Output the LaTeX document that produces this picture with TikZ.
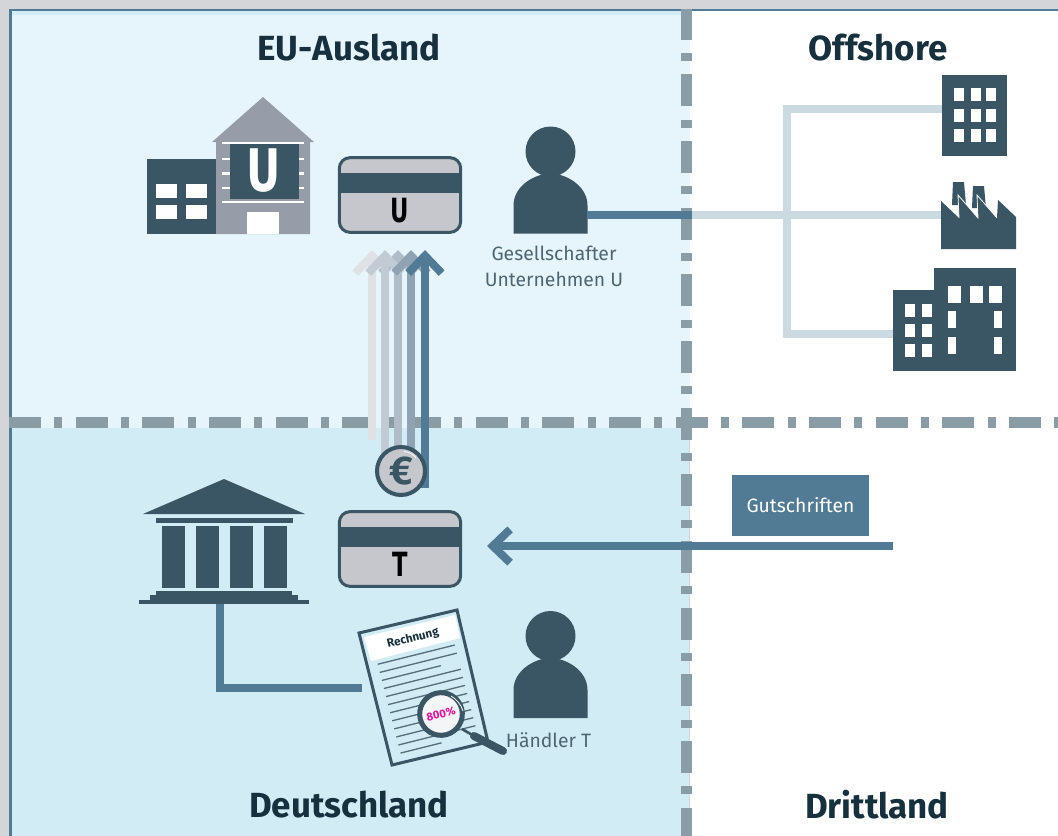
\documentclass[tikz,border=0pt]{standalone}
\usepackage{fontspec}
\setmainfont{Fira Sans}
\newfontfamily\heavyface{DejaVu Sans}
\usetikzlibrary{positioning, arrows.meta}
\definecolor{pagegrey}{RGB}{212,213,216}
\definecolor{eublue}{RGB}{230,245,251}
\definecolor{deblue}{RGB}{210,236,246}
\definecolor{iconblue}{RGB}{58,85,100}
\definecolor{flowblue}{RGB}{81,122,149}
\definecolor{linkpale}{RGB}{203,217,225}
\definecolor{bordergrey}{RGB}{138,157,167}
\definecolor{housegrey}{RGB}{150,157,168}
\definecolor{cardgrey}{RGB}{198,199,204}
\definecolor{titledark}{RGB}{23,48,61}
\definecolor{labelgrey}{RGB}{78,101,114}
\definecolor{rateink}{RGB}{230,16,155}
\tikzset{
  zonetitle/.style={text=titledark, font=\fontsize{26.2}{30}\selectfont\bfseries},
  zonetext/.style={text=labelgrey, font=\fontsize{14.5}{18}\selectfont, align=center},
  zoneline/.style={bordergrey, line width=8.25pt, dash pattern=on 24pt off 10pt on 6pt off 10pt},
  flowline/.style={flowblue, line width=6pt},
  linkline/.style={linkpale, line width=6pt},
  flowarrow/.style={line width=6pt, -{Straight Barb[length=13pt, width=25pt, line width=6pt]}},
  cardbox/.style={draw=iconblue, fill=cardgrey, line width=2.25pt, rounded corners=8pt, minimum width=91pt, minimum height=56pt, inner sep=0pt},
  cardtext/.style={font=\fontsize{25}{25}\heavyface\bfseries, inner sep=0pt},
  person/.pic={
    \fill [iconblue] (0,-82) circle (25);
    \fill [iconblue] (-37,0) -- (-37,-28) .. controls (-37,-48) and (-15,-60) .. (0,-60) .. controls (15,-60) and (37,-48) .. (37,-28) -- (37,0) -- cycle;
  }
}
\begin{document}
\begin{tikzpicture}[x=0.75pt, y=-0.75pt]
  \useasboundingbox (0,0) rectangle (1058,836);
  \fill [pagegrey] (0,0) rectangle (1058,836);
  \fill [white] (690,9) rectangle (1058,836);
  \fill [eublue] (9,9) rectangle (690,428);
  \fill [deblue] (9,428) rectangle (689,836);
  \fill [deblue] (12,11) rectangle (690,15);
  \fill [flowblue] (9,9) rectangle (12,836);
  \fill [flowblue] (9,9) rectangle (1058,11);

  \coordinate (zoneW) at (9,422.5);
  \coordinate (zoneE) at (1058,422.5);
  \coordinate (zoneN) at (686.5,9);
  \coordinate (zoneS) at (686.5,836);
  \draw [zoneline] (zoneW) -- (zoneE);
  \draw [zoneline, dash phase=1pt] (zoneN) -- (zoneS);

  \node [zonetitle] (euTitle) at (349,48) {EU-Ausland};
  \node [zonetitle] (offTitle) at (878,48) {Offshore};
  \node [zonetitle] (deTitle) at (349,805) {Deutschland};
  \node [zonetitle] (drTitle) at (877,805) {Drittland};

  % Unternehmen U
  \fill [housegrey] (212,142) -- (263,97) -- (314,142) -- (310,142) -- (310,234) -- (216,234) -- (216,142) -- cycle;
  \fill [white] (222,142) rectangle (304,144);
  \foreach \yy in {157.5,172,186.5} \fill [white] (222,\yy) rectangle (304,\yy+2.5);
  \fill [white] (222,201) rectangle (304,203);
  \fill [iconblue] (230,144) rectangle (299,199);
  \node [text=white, font=\fontsize{44}{44}\heavyface\bfseries, inner sep=0pt] (houseU) at (264,170.5) {\scalebox{0.72}[1]{U}};
  \fill [white] (247,212) rectangle (279,234);
  \fill [iconblue] (147,159) rectangle (216,234);
  \foreach \xx in {156,186} \foreach \yy in {184,205} \fill [white] (\xx,\yy) rectangle (\xx+21,\yy+14);

  \node [cardbox] (cardU) at (400,195) {};
  \fill [iconblue] (338,173) rectangle (462,193);
  \node [cardtext] (cardUtext) at (400,210.5) {\scalebox{0.68}[1]{U}};

  \pic at (550.5,233.5) {person};
  \node [zonetext] (ownerU) at (554,266.5) {Gesellschafter\\[2pt]Unternehmen U};

  % Zahlungen
  \coordinate (baseA) at (372,440);
  \coordinate (baseB) at (385,455);
  \coordinate (baseC) at (398,455);
  \coordinate (baseD) at (411,455);
  \coordinate (baseE) at (425,488);
  \coordinate (tipA) at (372,250);
  \coordinate (tipB) at (385,250);
  \coordinate (tipC) at (398,250);
  \coordinate (tipD) at (411,250);
  \coordinate (tipE) at (425,250);
  \draw [flowarrow, color={rgb,255:red,223;green,225;blue,229}] (baseA) -- (tipA);
  \draw [flowarrow, color={rgb,255:red,176;green,188;blue,200}] (baseC) -- (tipC);
  \draw [flowarrow, color={rgb,255:red,194;green,203;blue,212}] (baseB) -- (tipB);
  \draw [flowarrow, color={rgb,255:red,143;green,163;blue,180}] (baseD) -- (tipD);
  \draw [flowarrow, color=flowblue] (baseE) -- (tipE);

  \node [circle, draw=iconblue, fill=cardgrey, line width=3pt, minimum size=36pt, inner sep=0pt, text=iconblue, font=\fontsize{30}{30}\selectfont\bfseries] (coin) at (401,471) {€};
  \draw [white, line width=0.6pt] (404,451.5) .. controls (410,452) and (414,455) .. (416,458);

  % Haendler T
  \node [cardbox] (cardT) at (400,549) {};
  \fill [iconblue] (338,527) rectangle (462,547);
  \node [cardtext] (cardTtext) at (400,564) {\scalebox{0.68}[1]{T}};

  \fill [iconblue] (143,514) -- (224,479) -- (305,514) -- cycle;
  \fill [iconblue] (156,518) rectangle (293,523);
  \foreach \xx in {162,196,230,264} \fill [iconblue] (\xx,526) rectangle (\xx+23,588);
  \fill [iconblue] (156,591) rectangle (292,595);
  \fill [iconblue] (150,595) rectangle (298,600);
  \fill [iconblue] (139,600) rectangle (309,604);

  \coordinate (bankFoot) at (220,604);
  \coordinate (bankBend) at (220,688);
  \coordinate (billEnd) at (362,688);
  \draw [flowline, line join=miter] (bankFoot) -- (bankBend) -- (billEnd);

  \fill [deblue] (359,633) -- (457,610) -- (488,742) -- (392,765) -- cycle;
  \fill [white] (364,637) -- (455,615) -- (460,638) -- (371,661) -- cycle;
  \draw [iconblue, line width=2.25pt] (359,633) -- (457,610) -- (488,742) -- (392,765) -- cycle;
  \node [rotate=14, text=titledark, font=\fontsize{8.8}{10}\selectfont\bfseries, inner sep=0pt] (billTitle) at (413,638.5) {Rechnung};
  \foreach \nn/\len in {0/77,1/77,2/59,3/77,4/77,5/77,6/77,7/77,8/77,9/77,10/77,11/41}
    \draw [iconblue!85!white, line width=1pt] (377.7+2.07*\nn,664.3+8.07*\nn) -- ++(\len,-\len*0.25);

  \draw [iconblue, line width=2pt] (462,729) -- (474,736);
  \draw [iconblue, line width=6pt, line cap=round] (474,736) -- (503,751);
  \node [circle, draw=iconblue, fill=white!94!iconblue, line width=3.75pt, minimum size=32pt, inner sep=0pt, text=rateink, rotate=14, font=\fontsize{8.5}{10}\selectfont\bfseries] (lens) at (441,714) {800\%};
  \draw [white, line width=0.6pt] (451,696) .. controls (456,699) and (461,704) .. (463,711);

  \pic at (550.5,718) {person};
  \node [zonetext] (traderT) at (548.5,740) {Händler T};

  % Gutschriften
  \node [fill=flowblue, text=white, minimum width=102.75pt, minimum height=45.75pt, inner sep=0pt, font=\fontsize{14.5}{18}\selectfont] (credits) at (800.5,505.5) {\raisebox{-1pt}{Gutschriften}};
  \coordinate (creditStart) at (893,546);
  \coordinate (creditEnd) at (487,546);
  \draw [flowarrow, color=flowblue] (creditStart) -- (creditEnd);

  % Offshore
  \coordinate (ownerHand) at (587,215);
  \coordinate (zoneCross) at (692,215);
  \coordinate (linkHub) at (787,215);
  \coordinate (linkTop) at (787,109);
  \coordinate (linkLow) at (787,334);
  \coordinate (officeEnd) at (942,109);
  \coordinate (factoryEnd) at (941,215);
  \coordinate (blockEnd) at (893,334);
  \draw [linkline, line join=miter] (officeEnd) -- (linkTop) -- (linkLow) -- (blockEnd);
  \draw [linkline] (zoneCross) -- (factoryEnd);
  \draw [flowline] (ownerHand) -- (zoneCross);

  \fill [iconblue] (942,75) rectangle (1007,156);
  \foreach \xx in {954,971,986} \foreach \yy in {88,109,129} \fill [white] (\xx,\yy) rectangle (\xx+10,\yy+13);

  \fill [iconblue] (953,182) -- (964,182) -- (966,205) -- (952,205) -- cycle;
  \fill [iconblue] (973,186) -- (984,186) -- (986,208) -- (972,208) -- cycle;
  \fill [iconblue] (941,201) -- (959,218) -- (958,195) -- (978,218) -- (977,195) -- (997,218) -- (998,200) -- (1016,217) -- (1016,249) -- (941,249) -- cycle;
  \draw [white, line width=0.6pt] (959,218) -- (958,195) -- (978,218) -- (977,195) -- (997,218);

  \fill [iconblue] (893,290) rectangle (934,371);
  \fill [iconblue] (934,268) rectangle (1016,371);
  \foreach \xx in {905,922} \foreach \yy in {304,324,344} \fill [white] (\xx,\yy) rectangle (\xx+10,\yy+13);
  \foreach \xx in {948,970,989} \fill [white] (\xx,286) rectangle (\xx+13,303);
  \foreach \xx in {948,994} \foreach \yy in {311,337} \fill [white] (\xx,\yy) rectangle (\xx+8,\yy+17);
\end{tikzpicture}
\end{document}
